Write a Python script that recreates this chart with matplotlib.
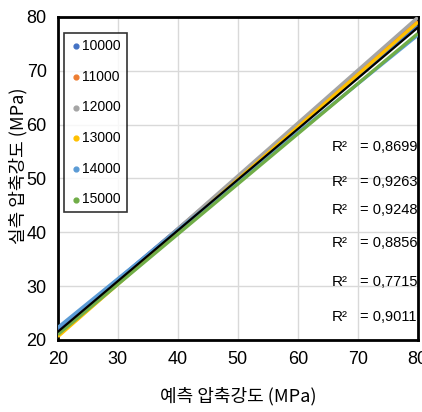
import matplotlib
matplotlib.use("Agg")
import matplotlib.pyplot as plt
import numpy as np

plt.rcParams['font.family'] = ['Liberation Sans', 'Noto Sans CJK KR', 'DejaVu Sans']

series = ['10000', '11000', '12000', '13000', '14000', '15000']
colors = ['#4472C4', '#ED7D31', '#A5A5A5', '#FFC000', '#5B9BD5', '#70AD47']
y_at_20 = [21.8, 21.2, 21.0, 20.6, 22.3, 21.0]
y_at_80 = [78.3, 79.2, 79.9, 79.0, 76.6, 76.9]
overall_y = [21.5, 78.0]
x_ends = [20, 80]
r2_values = ['0,8699', '0,9263', '0,9248', '0,8856', '0,7715', '0,9011']
r2_y = [55.8, 49.3, 44.1, 38.0, 30.7, 24.2]

fig = plt.figure(figsize=(4.22, 4.12), dpi=100)
ax = fig.add_axes([0.137, 0.175, 0.853, 0.784])

for name, c, a, b in zip(series, colors, y_at_20, y_at_80):
    ax.plot(x_ends, [a, b], color=c, lw=2.4, solid_capstyle='butt', zorder=3)
ax.plot(x_ends, overall_y, color='black', lw=1.6, zorder=4)

handles = [ax.scatter([], [], s=12, color=c, label=n) for n, c in zip(series, colors)]
leg = ax.legend(handles=handles, loc='upper left', bbox_to_anchor=(0.01, 0.96),
                frameon=True, fancybox=False, fontsize=10, handletextpad=0.0,
                labelspacing=1.2, borderpad=0.45, handlelength=0.8, borderaxespad=0.2)
leg.get_frame().set_edgecolor('black')
leg.get_frame().set_linewidth(1.2)

for v, y in zip(r2_values, r2_y):
    ax.text(68.3, y, 'R²', ha='right', va='center', fontsize=11, zorder=5)
    ax.text(70.3, y, '= ' + v, ha='left', va='center', fontsize=10.5, zorder=5)

ax.set_xlim(20, 80)
ax.set_ylim(20, 80)
ax.set_xticks(range(20, 81, 10))
ax.set_yticks(range(20, 81, 10))
ax.grid(True, color='#D9D9D9', lw=1.0, zorder=0)
ax.set_axisbelow(True)
ax.tick_params(length=0, labelsize=13, pad=8)
for s in ax.spines.values():
    s.set_linewidth(2.0)
    s.set_color('black')

ax.set_xlabel('예측 압축강도 (MPa)', fontsize=13, labelpad=14,
              family=['Noto Sans CJK KR', 'DejaVu Sans'])
ax.set_ylabel('실측 압축강도 (MPa)', fontsize=13,
              family=['Noto Sans CJK KR', 'DejaVu Sans'])
ax.yaxis.set_label_coords(-0.085, 0.539)

fig.savefig('out.png', dpi=100)
